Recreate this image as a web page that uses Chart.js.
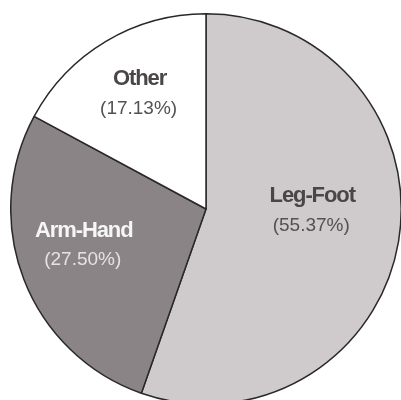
<!DOCTYPE html>
<html>
<head>
<meta charset="utf-8">
<script src="https://cdn.jsdelivr.net/npm/chart.js@4/dist/chart.umd.min.js"></script>
<style>
  html, body { margin: 0; padding: 0; background: #fff; overflow: hidden; width: 401px; height: 400px; }
  #wrap { position: absolute; left: 10px; top: 13px; width: 392px; height: 392px; }
</style>
</head>
<body>
<div id="wrap"><canvas id="pie"></canvas></div>
<script>
const labels = ["Leg-Foot", "Arm-Hand", "Other"]
const values = [55.37, 27.50, 17.13]
const colors = ["#cfcacb", "#8b8486", "#ffffff"]
// name colour, percent colour per slice
const nameColors = ["#4a4647", "#f6f6f6", "#4a4647"]
const pctColors = ["#555152", "#e6e2e3", "#555152"]
// label offsets from the pie centre, in units of the radius
const labelOffsets = [[0.544, -0.067], [-0.626, 0.11], [-0.34, -0.664]]

const sliceLabels = {
    id: "sliceLabels",
    afterDatasetsDraw(chart) {
        const ctx = chart.ctx
        const meta = chart.getDatasetMeta(0)
        meta.data.forEach((arc, i) => {
            const r = arc.outerRadius
            const x = arc.x + labelOffsets[i][0] * r
            const y = arc.y + labelOffsets[i][1] * r
            ctx.save()
            ctx.textAlign = "center"
            ctx.textBaseline = "middle"
            ctx.font = "bold 22px 'Liberation Sans', Arial, sans-serif"
            ctx.letterSpacing = "-1.1px"
            ctx.fillStyle = nameColors[i]
            ctx.fillText(labels[i], x, y)
            ctx.letterSpacing = "0px"
            ctx.font = "19px 'Liberation Sans', Arial, sans-serif"
            ctx.fillStyle = pctColors[i]
            ctx.fillText("(" + values[i].toFixed(2) + "%)", x - 1, y + 29.5)
            ctx.restore()
        })
    }
}

const context = document.getElementById("pie").getContext("2d")
const chart = new Chart(context, {
    type: "pie",
    data: {
        labels: labels,
        datasets: [
            {
                data: values,
                backgroundColor: colors,
                borderColor: "#2b2829",
                borderWidth: 1.5,
            }
        ]
    },
    options: {
        responsive: true,
        maintainAspectRatio: false,
        animation: false,
        layout: { padding: 0 },
        plugins: {
            legend: { display: false },
            tooltip: { enabled: false },
        }
    },
    plugins: [sliceLabels]
})
</script>
</body>
</html>
